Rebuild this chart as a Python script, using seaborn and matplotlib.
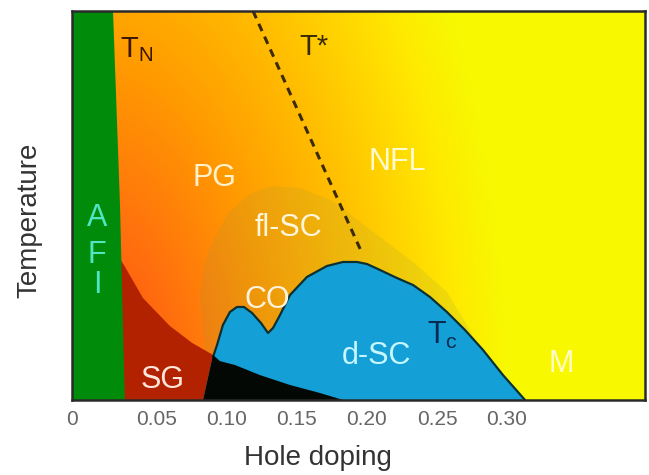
import numpy as np
import pandas as pd
import matplotlib
matplotlib.use("Agg")
import matplotlib.pyplot as plt
import seaborn as sns
from matplotlib.colors import LinearSegmentedColormap

# ---------------- data ----------------
x_ticks = [-0.0107, 0.05, 0.10, 0.15, 0.20, 0.25, 0.30]
x_tick_labels = ["0", "0.05", "0.10", "0.15", "0.20", "0.25", "0.30"]

# antiferromagnetic insulator (AFI) region
afi_x = [-0.0107, -0.0107, 0.0186, 0.0236, 0.027]
afi_y = [0.0, 1.0, 1.0, 0.5, 0.0]

# spin glass region
sg_x = [0.024, 0.0264, 0.040, 0.0593, 0.075, 0.090, 0.0829, 0.024]
sg_y = [0.36, 0.347, 0.262, 0.190, 0.147, 0.116, 0.0, 0.0]

# black region under the dome
blk_x = [0.0829, 0.090, 0.095, 0.1057, 0.1236, 0.145, 0.1664, 0.183]
blk_y = [0.0, 0.116, 0.100, 0.090, 0.064, 0.0386, 0.018, 0.0]

# Tc dome (d-SC + CO bump)
tc_x = [0.090, 0.0929, 0.0971, 0.1021, 0.1071, 0.1121, 0.1179, 0.1243, 0.1293,
        0.1329, 0.1379, 0.145, 0.1571, 0.1714, 0.1829, 0.1929, 0.200, 0.2093,
        0.2214, 0.2329, 0.245, 0.2571, 0.270, 0.2829, 0.2971, 0.3129]
tc_y = [0.1105, 0.1414, 0.1928, 0.2262, 0.2391, 0.2391, 0.2237, 0.1979, 0.1722,
        0.1851, 0.2185, 0.2699, 0.3162, 0.3445, 0.3548, 0.3548, 0.3496, 0.3342,
        0.3136, 0.2956, 0.2648, 0.2262, 0.180, 0.1285, 0.0643, 0.0]

# fluctuating SC region
fl_x = [0.0843, 0.0807, 0.0829, 0.0893, 0.1007, 0.1164, 0.1321, 0.1521, 0.1757,
        0.195, 0.2093, 0.2329, 0.2571, 0.2736, 0.2807]
fl_y = [0.1234, 0.2571, 0.3393, 0.4036, 0.4807, 0.5296, 0.5501, 0.545, 0.5116,
        0.4576, 0.419, 0.3548, 0.2776, 0.18, 0.1234]

# T* crossover line
tstar_x = [0.1186, 0.1964]
tstar_y = [1.0, 0.378]

# region labels
lab_text = ["PG", "NFL", "fl-SC", "CO", "d-SC", "M", "SG"]
lab_x = [0.0907, 0.2214, 0.1436, 0.1286, 0.207, 0.339, 0.0543]
lab_y = [0.571, 0.612, 0.442, 0.257, 0.113, 0.0925, 0.0514]
lab_col = ["#fff2cc", "#fffad0", "#fff6dc", "#fff2dc", "#c8f6ff", "#fffbc8", "#ffe6dc"]

# ---------------- style ----------------
sns.set_theme(style="white")
plt.rcParams["font.family"] = ["Liberation Sans", "DejaVu Sans"]
plt.rcParams["mathtext.fontset"] = "custom"
plt.rcParams["mathtext.rm"] = "Liberation Sans"
plt.rcParams["mathtext.it"] = "Liberation Sans:italic"

fig = plt.figure(figsize=(6.49, 4.75), dpi=100)
ax = fig.add_axes([72 / 649, 1 - 400 / 475, (645 - 72) / 649, (400 - 11) / 475])
x0, x1 = -0.0107, 0.3986
ax.set_xlim(x0, x1)
ax.set_ylim(0, 1)

# background gradient (orange-red at low doping/temperature -> yellow)
gx = np.linspace(x0, x1, 400)
gy = np.linspace(0, 1, 300)
GX, GY = np.meshgrid(gx, gy)
H = np.sqrt((GX / 0.30) ** 2 + (GY / 2.0) ** 2)
cmap = LinearSegmentedColormap.from_list(
    "bg", [(0.0, "#ff4000"), (0.2, "#ff6a10"), (0.45, "#ff9c00"),
           (0.7, "#ffc800"), (0.88, "#ffe800"), (1.0, "#f8f800")])
ax.imshow(H, extent=[x0, x1, 0, 1], origin="lower", cmap=cmap, vmin=0, vmax=1,
          aspect="auto", interpolation="bilinear", zorder=0)

# fluctuating SC tint
ax.fill(fl_x, fl_y, color="#9a9a40", alpha=0.16, lw=0, zorder=1)

# spin glass
ax.fill(sg_x, sg_y, color="#b32200", lw=0, zorder=2)

# d-SC dome
ax.fill(tc_x + [0.0829], tc_y + [0.0], color="#14a0d6", lw=0, zorder=3)
dome = pd.DataFrame({"x": tc_x, "y": tc_y})
sns.lineplot(data=dome, x="x", y="y", sort=False, color="#0b3034", lw=1.6,
             ax=ax, zorder=4)

# black region
ax.fill(blk_x, blk_y, color="#040804", lw=0, zorder=5)

# AFI
ax.fill(afi_x, afi_y, color="#008c0a", lw=0, zorder=6)

# T* dashed line
ts = pd.DataFrame({"x": tstar_x, "y": tstar_y})
sns.lineplot(data=ts, x="x", y="y", color="#3b2a05", lw=2.2, ax=ax,
             dashes=False, zorder=7).lines[-1].set_dashes([2.6, 2.0])

# labels
for t, x, y, c in zip(lab_text, lab_x, lab_y, lab_col):
    ax.text(x, y, t, color=c, fontsize=22, ha="center", va="center", zorder=8)

ax.text(0.0357, 0.90, r"T$_\mathrm{N}$", color="#3a1500", fontsize=21,
        ha="center", va="center", zorder=8)
ax.text(0.162, 0.907, "T*", color="#3a2a00", fontsize=21, ha="center",
        va="center", zorder=8)
ax.text(0.254, 0.165, r"T$_\mathrm{c}$", color="#0b2a50", fontsize=22,
        ha="center", va="center", zorder=8)
for letter, y in zip(["A", "F", "I"], [0.468, 0.373, 0.296]):
    ax.text(0.0071, y, letter, color="#50e6c4", fontsize=22, ha="center",
            va="center", zorder=8)

# axes
ax.set_xticks(x_ticks)
ax.set_xticklabels(x_tick_labels)
ax.set_yticks([])
ax.tick_params(axis="x", length=0, pad=7, labelsize=15, labelcolor="#666666")
ax.set_xlabel("Hole doping", fontsize=20, color="#333333")
ax.set_ylabel("Temperature", fontsize=20, color="#333333")
ax.xaxis.set_label_coords(0.43, -0.115)
ax.yaxis.set_label_coords(-0.052, 0.463)
for side, sp in ax.spines.items():
    sp.set_visible(True)
    sp.set_color("#2a2a2a")
    sp.set_linewidth(1.8)
    sp.set_zorder(10)
ax.grid(False)

fig.savefig("out.png", dpi=100)
